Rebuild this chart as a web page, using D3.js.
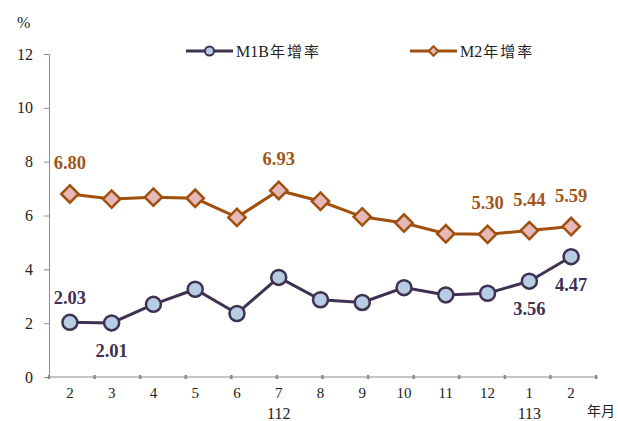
<!DOCTYPE html>
<html lang="zh-Hant">
<head>
<meta charset="UTF-8">
<title>M1B M2</title>
<style>
  body { margin: 0; background: #fff; }
</style>
</head>
<body>
<div class="container"></div>
<script src="https://d3js.org/d3.v7.min.js"></script>
<script>
const months = ["2", "3", "4", "5", "6", "7", "8", "9", "10", "11", "12", "1", "2"];
const years = [{ i: 5, label: "112" }, { i: 11, label: "113" }];
const m1b = [2.03, 2.01, 2.70, 3.26, 2.36, 3.70, 2.87, 2.77, 3.32, 3.05, 3.11, 3.56, 4.47];
const m2 = [6.80, 6.61, 6.68, 6.64, 5.93, 6.93, 6.53, 5.95, 5.72, 5.32, 5.30, 5.44, 5.59];
const yTicks = [0, 2, 4, 6, 8, 10, 12];
// which points get a value label, and on which side
const m1bLabels = [[0, "upnear"], [1, "down"], [11, "down"], [12, "down"]];
const m2Labels = [[0, "up"], [5, "up"], [10, "up"], [11, "up"], [12, "up"]];

const w = 618, h = 421;
const plotL = 49, plotR = 592, plotT = 54, plotB = 377;
const serif = "Liberation Serif";

const svg = d3.select(".container").append("svg")
  .attr("width", w).attr("height", h);

const x = d3.scaleBand().domain(d3.range(months.length)).range([plotL, plotR]);
const y = d3.scaleLinear().domain([0, 12]).range([plotB, plotT]);
const cx = i => x(i) + x.bandwidth() / 2;

const axisColor = "#8c8c8c";

// y axis
const yAxis = svg.append("g")
  .attr("transform", "translate(" + plotL + ",0)")
  .call(d3.axisLeft(y).tickValues(yTicks).tickSize(5).tickPadding(11));
yAxis.select(".domain").attr("stroke", axisColor);
yAxis.selectAll(".tick line").attr("stroke", axisColor);
yAxis.selectAll("text").attr("font-size", 16).attr("fill", "#222")
  .style("font-family", serif);

// x axis
const xAxis = svg.append("g")
  .attr("transform", "translate(0," + plotB + ")")
  .call(d3.axisBottom(x).tickFormat(i => months[i]).tickSize(0).tickPadding(10));
xAxis.select(".domain").attr("stroke", axisColor).attr("d", "M" + plotL + ",0H" + (plotR + 6));
xAxis.selectAll("text").attr("font-size", 15).attr("fill", "#222")
  .style("font-family", serif);
// small tick dots along the axis
const tickX = d3.scaleLinear().domain([0, months.length - 1]).range([plotL, plotR + 4]);
svg.append("g").selectAll("line")
  .data(d3.range(months.length))
  .join("line")
  .attr("x1", i => tickX(i)).attr("x2", i => tickX(i))
  .attr("y1", plotB - 2).attr("y2", plotB + 2)
  .attr("stroke", axisColor).attr("stroke-width", 2.5);

svg.append("g").selectAll("text")
  .data(years).join("text")
  .attr("x", d => cx(d.i)).attr("y", 419)
  .attr("text-anchor", "middle")
  .attr("font-size", 16).attr("fill", "#222")
  .style("font-family", serif)
  .text(d => d.label);

svg.append("text").attr("x", 587).attr("y", 416)
  .attr("font-size", 14).attr("fill", "#222")
  .style("font-family", "Noto Sans CJK TC")
  .text("年月");

svg.append("text").attr("x", 17).attr("y", 28)
  .attr("font-size", 16).attr("fill", "#222")
  .style("font-family", serif)
  .text("%");

const line = d3.line().x((d, i) => cx(i)).y(d => y(d));

const c1 = "#3f3151", f1 = "#b8cce4";
const c2 = "#a0500f", f2 = "#e6b9b8";

// M2 series
svg.append("path").datum(m2)
  .attr("d", line).attr("fill", "none")
  .attr("stroke", c2).attr("stroke-width", 3);
const diamond = d3.symbol().type(d3.symbolSquare).size(150);
svg.append("g").selectAll("path")
  .data(m2).join("path")
  .attr("d", diamond)
  .attr("transform", (d, i) => "translate(" + cx(i) + "," + y(d) + ") rotate(45)")
  .attr("fill", f2).attr("stroke", c2).attr("stroke-width", 2.5);

// M1B series
svg.append("path").datum(m1b)
  .attr("d", line).attr("fill", "none")
  .attr("stroke", c1).attr("stroke-width", 3);
svg.append("g").selectAll("circle")
  .data(m1b).join("circle")
  .attr("cx", (d, i) => cx(i)).attr("cy", d => y(d))
  .attr("r", 7.5)
  .attr("fill", f1).attr("stroke", c1).attr("stroke-width", 2.5);

// value labels
function labelPos(i, v, where) {
  const px = cx(i), py = y(v);
  if (where === "up") return [px, py - 25];
  if (where === "upnear") return [px, py - 18];
  return [px, py + 34];
}
function drawLabels(list, values, color) {
  svg.append("g").selectAll("text")
    .data(list).join("text")
    .attr("x", d => labelPos(d[0], values[d[0]], d[1])[0])
    .attr("y", d => labelPos(d[0], values[d[0]], d[1])[1])
    .attr("text-anchor", "middle")
    .attr("font-size", 18.5).attr("font-weight", "bold")
    .attr("fill", color)
    .style("font-family", serif)
    .text(d => values[d[0]].toFixed(2));
}
drawLabels(m2Labels, m2, "#a0561a");
drawLabels(m1bLabels, m1b, c1);

// legend
const legend = [
  { name: "M1B", zh: "年增率", x: 186, color: c1, fill: f1, shape: "circle" },
  { name: "M2", zh: "年增率", x: 410, color: c2, fill: f2, shape: "diamond" }
];
const lg = svg.append("g").selectAll("g").data(legend).join("g")
  .attr("transform", d => "translate(" + d.x + ",51)");
lg.append("line").attr("x1", 0).attr("x2", 47)
  .attr("stroke", d => d.color).attr("stroke-width", 3);
lg.filter(d => d.shape === "circle").append("circle")
  .attr("cx", 23.5).attr("r", 4.5)
  .attr("fill", d => d.fill).attr("stroke", d => d.color).attr("stroke-width", 2);
lg.filter(d => d.shape === "diamond").append("path")
  .attr("d", d3.symbol().type(d3.symbolSquare).size(45))
  .attr("transform", "translate(23.5,0) rotate(45)")
  .attr("fill", d => d.fill).attr("stroke", d => d.color).attr("stroke-width", 2);
const lt = lg.append("text").attr("x", 50).attr("y", 6)
  .attr("font-size", 16).attr("fill", "#222");
lt.append("tspan").style("font-family", serif).text(d => d.name);
lt.append("tspan").attr("font-size", 15).attr("dx", 1)
  .style("font-family", "Noto Sans CJK TC").style("letter-spacing", "2px")
  .text(d => d.zh);
</script>
</body>
</html>
